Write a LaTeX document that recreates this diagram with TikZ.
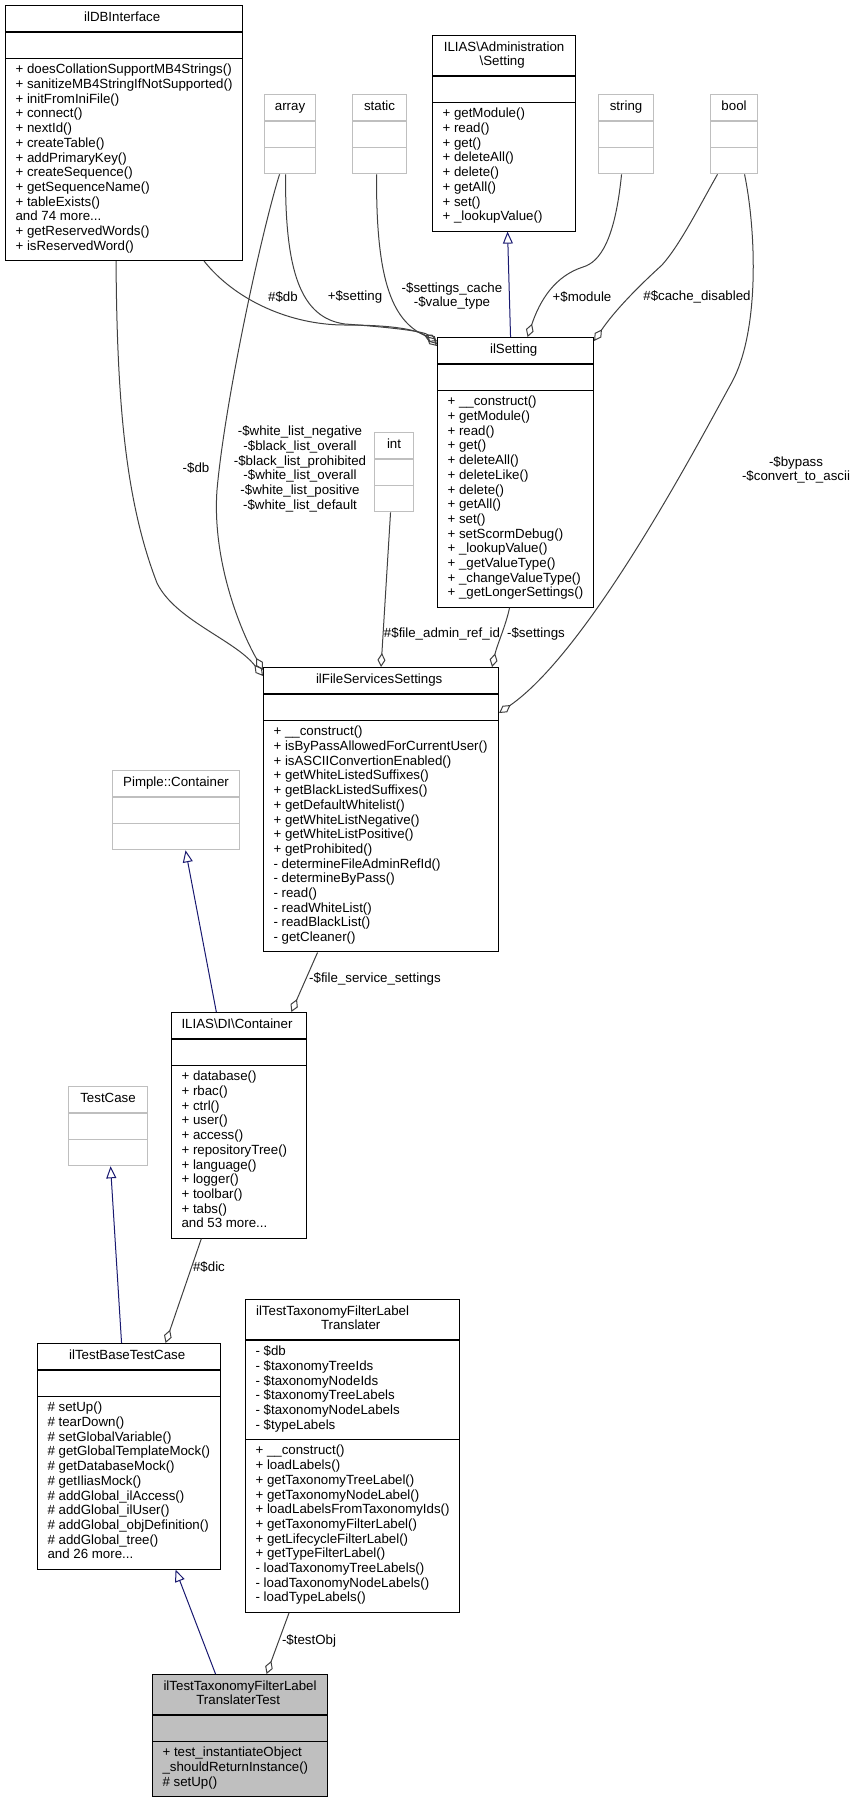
\documentclass[tikz,border=0pt]{standalone}
\usepackage{fontspec}
\setmainfont{Liberation Sans}
\usetikzlibrary{positioning,shapes.multipart,arrows.meta}

\definecolor{edgegray}{HTML}{404040}
\definecolor{inhblue}{HTML}{191970}
\definecolor{extgray}{HTML}{BFBFBF}

\begin{document}
\begin{tikzpicture}[x=1pt,y=-1pt,
  every node/.style={font=\fontsize{13.3}{14.7}\selectfont},
  cls/.style={rectangle split,rectangle split parts=3,draw=black,line width=1.1pt,
    rectangle split part align={center,left,left},align=left,
    every text node part/.style={align=center},
    inner xsep=10pt,inner ysep=5.3pt,anchor=north west,fill=white,
    execute at begin node=\strut,execute at end node=\strut},
  ext/.style={cls,draw=extgray},
  agg/.style={draw=edgegray,line width=1pt,-{Diamond[open,length=14pt,width=8pt]}},
  inh/.style={draw=inhblue,line width=1pt,-{Triangle[open,length=12pt,width=10pt]}},
  lbl/.style={align=center,inner sep=0pt}]
  \useasboundingbox (0,0) rectangle (855,1800);

  % classes
  \node[cls,minimum width=236pt] (q_dbi) at (5,5) {ilDBInterface
    \nodepart{two}
    \nodepart{three}+ doesCollationSupportMB4Strings()\\+ sanitizeMB4StringIfNotSupported()\\
    + initFromIniFile()\\+ connect()\\+ nextId()\\+ createTable()\\+ addPrimaryKey()\\
    + createSequence()\\+ getSequenceName()\\+ tableExists()\\and 74 more...\\
    + getReservedWords()\\+ isReservedWord()};
  \node[cls,minimum width=143pt] (q_adm) at (432,35) {ILIAS\textbackslash Administration\\\textbackslash Setting
    \nodepart{two}
    \nodepart{three}+ getModule()\\+ read()\\+ get()\\+ deleteAll()\\+ delete()\\
    + getAll()\\+ set()\\+ \_lookupValue()};
  \node[ext,minimum width=51pt] (q_array) at (264,94) {array\nodepart{two}\nodepart{three}};
  \node[ext,minimum width=54pt] (q_static) at (352,94) {static\nodepart{two}\nodepart{three}};
  \node[ext,minimum width=55pt] (q_string) at (598,94) {string\nodepart{two}\nodepart{three}};
  \node[ext,minimum width=47pt] (q_bool) at (710,94) {bool\nodepart{two}\nodepart{three}};
  \node[cls,minimum width=156pt] (q_set) at (437,337) {ilSetting
    \nodepart{two}
    \nodepart{three}+ \_\_construct()\\+ getModule()\\+ read()\\+ get()\\+ deleteAll()\\
    + deleteLike()\\+ delete()\\+ getAll()\\+ set()\\+ setScormDebug()\\+ \_lookupValue()\\
    + \_getValueType()\\+ \_changeValueType()\\+ \_getLongerSettings()};
  \node[ext,minimum width=39pt] (q_int) at (374,432) {int\nodepart{two}\nodepart{three}};
  \node[cls,minimum width=235pt] (q_fss) at (263,667) {ilFileServicesSettings
    \nodepart{two}
    \nodepart{three}+ \_\_construct()\\+ isByPassAllowedForCurrentUser()\\
    + isASCIIConvertionEnabled()\\+ getWhiteListedSuffixes()\\+ getBlackListedSuffixes()\\
    + getDefaultWhitelist()\\+ getWhiteListNegative()\\+ getWhiteListPositive()\\
    + getProhibited()\\- determineFileAdminRefId()\\- determineByPass()\\- read()\\
    - readWhiteList()\\- readBlackList()\\- getCleaner()};
  \node[ext,minimum width=127pt] (q_pimple) at (112,770) {Pimple::Container\nodepart{two}\nodepart{three}};
  \node[cls,minimum width=133pt] (q_dic) at (171,1012) {ILIAS\textbackslash DI\textbackslash Container
    \nodepart{two}
    \nodepart{three}+ database()\\+ rbac()\\+ ctrl()\\+ user()\\+ access()\\
    + repositoryTree()\\+ language()\\+ logger()\\+ toolbar()\\+ tabs()\\and 53 more...};
  \node[ext,minimum width=79pt] (q_tc) at (68,1086) {TestCase\nodepart{two}\nodepart{three}};
  \node[cls,minimum width=183pt] (q_base) at (37,1343) {ilTestBaseTestCase
    \nodepart{two}
    \nodepart{three}\# setUp()\\\# tearDown()\\\# setGlobalVariable()\\
    \# getGlobalTemplateMock()\\\# getDatabaseMock()\\\# getIliasMock()\\
    \# addGlobal\_ilAccess()\\\# addGlobal\_ilUser()\\\# addGlobal\_objDefinition()\\
    \# addGlobal\_tree()\\and 26 more...};
  \node[cls,minimum width=213pt] (q_trans) at (245,1299) {\makebox[193pt][l]{ilTestTaxonomyFilterLabel}\\Translater
    \nodepart{two}- \$db\\- \$taxonomyTreeIds\\- \$taxonomyNodeIds\\
    - \$taxonomyTreeLabels\\- \$taxonomyNodeLabels\\- \$typeLabels
    \nodepart{three}+ \_\_construct()\\+ loadLabels()\\+ getTaxonomyTreeLabel()\\
    + getTaxonomyNodeLabel()\\+ loadLabelsFromTaxonomyIds()\\+ getTaxonomyFilterLabel()\\
    + getLifecycleFilterLabel()\\+ getTypeFilterLabel()\\- loadTaxonomyTreeLabels()\\
    - loadTaxonomyNodeLabels()\\- loadTypeLabels()};
  \node[cls,fill=extgray,minimum width=175pt] (q_test) at (152,1674) {ilTestTaxonomyFilterLabel\\TranslaterTest
    \nodepart{two}
    \nodepart{three}+ test\_instantiateObject\\\_shouldReturnInstance()\\\# setUp()};

  % inheritance
  \draw[inh] ([xshift=-5pt]q_set.north) -- ([xshift=3.5pt]q_adm.south);
  \draw[inh] ([xshift=-22.5pt]q_dic.north) -- ([xshift=9.5pt]q_pimple.south);
  \draw[inh] ([xshift=-7.5pt]q_base.north) -- ([xshift=2.5pt]q_tc.south);
  \draw[inh] ([xshift=-24.5pt]q_test.north) -- ([xshift=46.5pt]q_base.south);

  % members
  \draw[agg] ([xshift=80pt]q_dbi.south) .. controls (235,300) and (290,325) .. (345,325)
    .. controls (395,325) and (420,330) .. ([yshift=-9pt]q_set.north west);
  \draw[agg] ([xshift=-4.5pt]q_array.south) .. controls (285,270) and (300,318) .. (345,324)
    .. controls (400,328) and (425,332) .. ([yshift=-7pt]q_set.north west);
  \draw[agg] ([xshift=-3pt]q_static.south) .. controls (376,275) and (390,320) .. ([yshift=-4pt]q_set.north west);
  \draw[agg] ([xshift=-4.5pt]q_string.south) .. controls (615,240) and (600,262) .. (583,267)
    .. controls (555,276) and (540,300) .. ([xshift=12pt]q_set.north);
  \draw[agg] ([xshift=-16.5pt]q_bool.south) .. controls (700,205) and (680,245) .. (662,265)
    .. controls (640,285) and (615,310) .. ([yshift=-4pt]q_set.north east);
  \draw[agg] ([xshift=10.5pt]q_bool.south) .. controls (756,230) and (760,330) .. (732,382)
    .. controls (700,440) and (590,650) .. ([yshift=-46pt]q_fss.north east);
  \draw[agg] ([xshift=-8pt]q_dbi.south) .. controls (117,400) and (125,500) .. (157,583)
    .. controls (175,620) and (235,640) .. ([yshift=-9pt]q_fss.north west);
  \draw[agg] ([xshift=-10.5pt]q_array.south) .. controls (262,230) and (225,400) .. (217,490)
    .. controls (212,560) and (240,630) .. ([yshift=-3pt]q_fss.north west);
  \draw[agg] ([xshift=-3.5pt]q_int.south) -- (q_fss.north);
  \draw[agg] ([xshift=-6pt]q_set.south) .. controls (506,625) and (497,645) .. ([xshift=111pt]q_fss.north);
  \draw[agg] ([xshift=-63.5pt]q_fss.south) -- ([xshift=52.5pt]q_dic.north);
  \draw[agg] ([xshift=-37.5pt]q_dic.south) -- ([xshift=36.5pt]q_base.north);
  \draw[agg] ([xshift=-63.5pt]q_trans.south) -- ([xshift=26.5pt]q_test.north);

  % member names
  \node[lbl] (l_db) at (283,297) {\#\$db};
  \node[lbl] (l_setting) at (355,297) {+\$setting};
  \node[lbl] (l_cache) at (452,296) {-\$settings\_cache\\-\$value\_type};
  \node[lbl] (l_module) at (582,297) {+\$module};
  \node[lbl] (l_disabled) at (697,297) {\#\$cache\_disabled};
  \node[lbl] (l_bypass) at (796,470) {-\$bypass\\-\$convert\_to\_ascii};
  \node[lbl] (l_fdb) at (196,468) {-\$db};
  \node[lbl] (l_lists) at (300,469) {-\$white\_list\_negative\\-\$black\_list\_overall\\
    -\$black\_list\_prohibited\\-\$white\_list\_overall\\-\$white\_list\_positive\\-\$white\_list\_default};
  \node[lbl] (l_refid) at (442,634) {\#\$file\_admin\_ref\_id};
  \node[lbl] (l_settings) at (536,634) {-\$settings};
  \node[lbl] (l_fss) at (375,979) {-\$file\_service\_settings};
  \node[lbl] (l_dic) at (209,1267) {\#\$dic};
  \node[lbl] (l_testobj) at (309,1641) {-\$testObj};
\end{tikzpicture}
\end{document}
